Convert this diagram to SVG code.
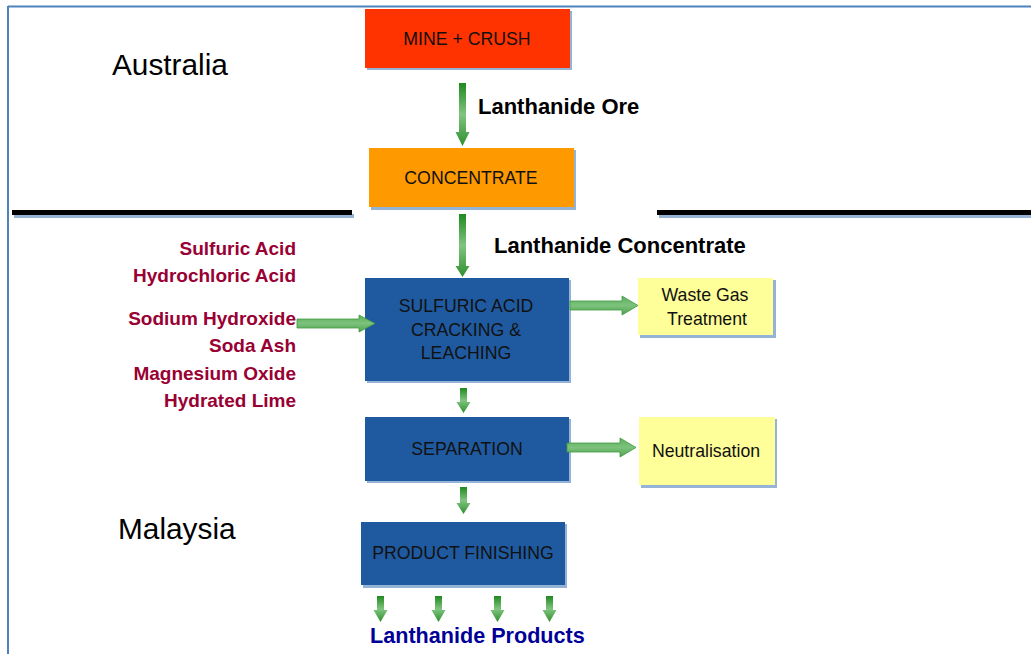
<svg xmlns="http://www.w3.org/2000/svg" width="1031" height="654" viewBox="0 0 1031 654">
  <style>
    .box-text { font-family: "Liberation Sans", Arial, sans-serif; font-size: 17.7px; fill: #111; text-anchor: middle; }
    .region { font-family: "Liberation Sans", Arial, sans-serif; font-size: 29.8px; fill: #000; }
    .flow { font-family: "Liberation Sans", Arial, sans-serif; font-size: 22px; font-weight: bold; fill: #000; }
    .reagent { font-family: "Liberation Sans", Arial, sans-serif; font-size: 19px; font-weight: bold; fill: #990033; text-anchor: end; }
    .product { font-family: "Liberation Sans", Arial, sans-serif; font-size: 21.6px; font-weight: bold; fill: #000099; }
    .shadow { fill: #95B3D7; }
    .arrow-v { fill: url(#gradV); }
    .arrow-h { fill: url(#gradH); stroke: #3E9A3E; stroke-width: 0.8; }
  </style>
  <defs>
    <linearGradient id="gradV" x1="0" y1="0" x2="0" y2="1">
      <stop offset="0" stop-color="#1F8A1F"/>
      <stop offset="0.5" stop-color="#80C480"/>
      <stop offset="1" stop-color="#2E8F2E"/>
    </linearGradient>
    <linearGradient id="gradH" x1="0" y1="0" x2="0" y2="1">
      <stop offset="0" stop-color="#5DAE5D"/>
      <stop offset="0.5" stop-color="#7CC27C"/>
      <stop offset="1" stop-color="#4FA24F"/>
    </linearGradient>
  </defs>

  <rect x="0" y="0" width="1031" height="654" fill="#fff"/>

  <!-- frame -->
  <g id="frame">
    <line x1="8" y1="6.5" x2="1031" y2="6.5" stroke="#4F81BD" stroke-width="2"/>
    <line x1="8" y1="6" x2="8" y2="654" stroke="#4F81BD" stroke-width="2"/>
  </g>

  <!-- border between regions -->
  <g id="divider">
    <rect x="14" y="214" width="340" height="4" class="shadow"/>
    <rect x="12" y="210" width="340" height="5" fill="#000"/>
    <rect x="659" y="214" width="372" height="4" class="shadow"/>
    <rect x="657" y="210" width="374" height="5" fill="#000"/>
  </g>

  <!-- region labels -->
  <text class="region" x="112" y="75">Australia</text>
  <text class="region" x="118" y="539">Malaysia</text>

  <!-- flow labels -->
  <text class="flow" x="478" y="114">Lanthanide  Ore</text>
  <text class="flow" x="494" y="253">Lanthanide  Concentrate</text>
  <text class="product" x="370" y="643">Lanthanide  Products</text>

  <g id="reagents">
    <text class="reagent" x="296" y="255">Sulfuric Acid</text>
    <text class="reagent" x="296" y="282">Hydrochloric Acid</text>
    <text class="reagent" x="296" y="325">Sodium Hydroxide</text>
    <text class="reagent" x="296" y="352">Soda Ash</text>
    <text class="reagent" x="296" y="380">Magnesium Oxide</text>
    <text class="reagent" x="296" y="407">Hydrated Lime</text>
  </g>

  <!-- process steps -->
  <g id="mine">
    <rect x="367" y="11" width="205" height="59" class="shadow"/>
    <rect x="365" y="9" width="205" height="59" fill="#FF3300"/>
    <text class="box-text" x="467" y="45">MINE + CRUSH</text>
  </g>
  <g id="concentrate">
    <rect x="371" y="150" width="205" height="60" class="shadow"/>
    <rect x="369" y="148" width="205" height="59" fill="#FF9900"/>
    <text class="box-text" x="471" y="184">CONCENTRATE</text>
  </g>
  <g id="cracking">
    <rect x="367" y="280" width="204" height="103" class="shadow"/>
    <rect x="365" y="278" width="204" height="103" fill="#1F5AA0"/>
    <text class="box-text" x="466" y="312">SULFURIC ACID</text>
    <text class="box-text" x="466" y="336">CRACKING &amp;</text>
    <text class="box-text" x="466" y="359">LEACHING</text>
  </g>
  <g id="separation">
    <rect x="367" y="419" width="204" height="64" class="shadow"/>
    <rect x="365" y="417" width="204" height="64" fill="#1F5AA0"/>
    <text class="box-text" x="467" y="455">SEPARATION</text>
  </g>
  <g id="finishing">
    <rect x="363" y="524" width="204" height="64" class="shadow"/>
    <rect x="361" y="522" width="204" height="63" fill="#1F5AA0"/>
    <text class="box-text" x="463" y="559">PRODUCT FINISHING</text>
  </g>
  <g id="waste-gas">
    <rect x="640" y="280" width="136" height="58" class="shadow"/>
    <rect x="638" y="278" width="135" height="57" fill="#FFFF99"/>
    <text class="box-text" x="705" y="301">Waste Gas</text>
    <text class="box-text" x="707" y="325">Treatment</text>
  </g>
  <g id="neutralisation">
    <rect x="641" y="419" width="136" height="69" class="shadow"/>
    <rect x="639" y="417" width="136" height="68" fill="#FFFF99"/>
    <text class="box-text" x="706" y="457">Neutralisation</text>
  </g>

  <!-- connectors -->
  <g id="connectors">
    <!-- mine to concentrate -->
    <path class="arrow-v" d="M459 83 H466 V132 H469.5 L462.5 146 L455.5 132 H459 Z"/>
    <!-- concentrate to cracking -->
    <path class="arrow-v" d="M459 214 H466 V266 H469.5 L462.5 277 L455.5 266 H459 Z"/>
    <!-- cracking to separation -->
    <path class="arrow-v" d="M460 388 H467 V402 H470.5 L463.5 413 L456.5 402 H460 Z"/>
    <!-- separation to finishing -->
    <path class="arrow-v" d="M460 487 H467 V503 H470.5 L463.5 514 L456.5 503 H460 Z"/>
    <!-- reagents in -->
    <path class="arrow-h" d="M297 319 H359 V315 L375 323.5 L359 332 V328 H297 Z"/>
    <!-- to waste gas -->
    <path class="arrow-h" d="M570 301 H622 V296 L638 305.5 L622 315 V310 H570 Z"/>
    <!-- to neutralisation -->
    <path class="arrow-h" d="M567 443 H620 V438 L636 447.5 L620 457 V452 H567 Z"/>
    <!-- products out -->
    <path class="arrow-v" d="M377 596 H384 V610 H387.5 L380.5 622 L373.5 610 H377 Z"/>
    <path class="arrow-v" d="M435 596 H442 V610 H445.5 L438.5 622 L431.5 610 H435 Z"/>
    <path class="arrow-v" d="M494 596 H501 V610 H504.5 L497.5 622 L490.5 610 H494 Z"/>
    <path class="arrow-v" d="M546 596 H553 V610 H556.5 L549.5 622 L542.5 610 H546 Z"/>
  </g>
</svg>
